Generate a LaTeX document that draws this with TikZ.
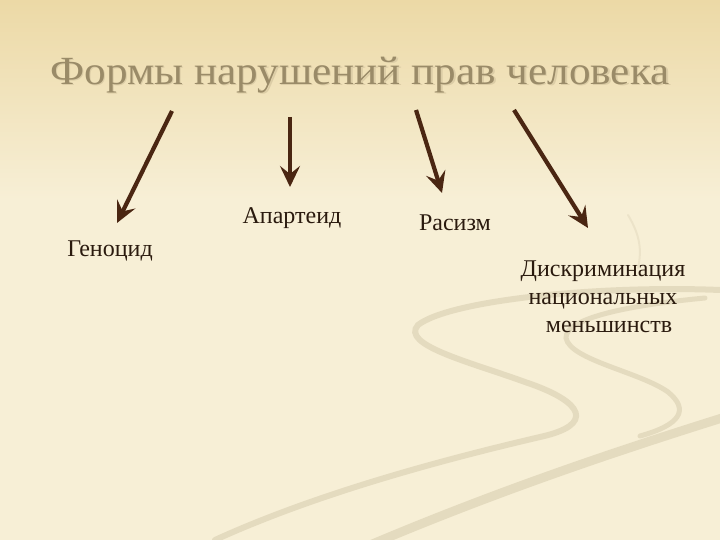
\documentclass[tikz,border=0pt]{standalone}
\usepackage{fontspec}
\setmainfont{Liberation Serif}
\usetikzlibrary{arrows.meta}
\definecolor{bgtop}{HTML}{ECD9A6}
\definecolor{bgbot}{HTML}{F7EFD6}
\definecolor{swirl}{HTML}{CFC3A3}
\definecolor{titlecol}{HTML}{9A8B68}
\definecolor{titleshadow}{HTML}{DCCDA6}
\definecolor{arrowcol}{HTML}{4A2612}
\definecolor{labelcol}{HTML}{2A1A0E}
\tikzset{
  arr/.style={draw=arrowcol, line width=4.2pt, -{Stealth[length=21pt,width=20pt,inset=8pt]}},
  lbl/.style={font=\fontsize{24}{28}\selectfont, text=labelcol, inner sep=0pt, align=center},
  band/.style={draw=swirl, line cap=round, opacity=0.45}
}
\begin{document}
\begin{tikzpicture}[x=1pt,y=-1pt]
\useasboundingbox (0,0) rectangle (720,540);
% background
\shade[top color=bgtop, bottom color=bgbot] (0,0) rectangle (720,200);
\fill[bgbot] (0,199.5) rectangle (720,540);
% decorative swirls
\draw[band, line width=6pt] (720,290) .. controls (600,285) and (450,300) .. (418,325)
  .. controls (400,345) and (470,362) .. (525,382)
  .. controls (585,402) and (595,425) .. (540,437)
  .. controls (450,458) and (320,492) .. (215,540);
\draw[band, line width=5pt] (705,298) .. controls (630,305) and (565,318) .. (566,338)
  .. controls (570,360) and (640,372) .. (668,392)
  .. controls (690,410) and (680,425) .. (640,436);
\draw[band, line width=9pt] (722,418) .. controls (620,450) and (500,490) .. (370,545);
\draw[band, line width=2pt, opacity=0.25] (628,215) .. controls (640,235) and (642,250) .. (638,268);
% title
\node[text=titleshadow, font=\fontsize{40}{46}\selectfont] at (361.5,76.5)
  {\scalebox{1.08}[1]{Формы нарушений прав человека}};
\node (title) [text=titlecol, font=\fontsize{40}{46}\selectfont] at (360,75)
  {\scalebox{1.08}[1]{Формы нарушений прав человека}};
% labels
\node (genocide) [lbl, anchor=base] at (110,256) {Геноцид};
\node (apart) [lbl, anchor=base] at (292,224) {Апартеид};
\node (racism) [lbl, anchor=base] at (455,230) {Расизм};
\node (discr) [lbl, anchor=north] at (603,261) {Дискриминация\\национальных\\\hspace*{12pt}меньшинств};
% arrows
\coordinate (s1) at (172,111);
\coordinate (e1) at (117,223);
\coordinate (s2) at (290,117);
\coordinate (e2) at (290,187);
\coordinate (s3) at (416,110);
\coordinate (e3) at (442,193);
\coordinate (s4) at (514,110);
\coordinate (e4) at (588,228);
\draw[arr] (s1) -- (e1);
\draw[arr] (s2) -- (e2);
\draw[arr] (s3) -- (e3);
\draw[arr] (s4) -- (e4);
\end{tikzpicture}
\end{document}
